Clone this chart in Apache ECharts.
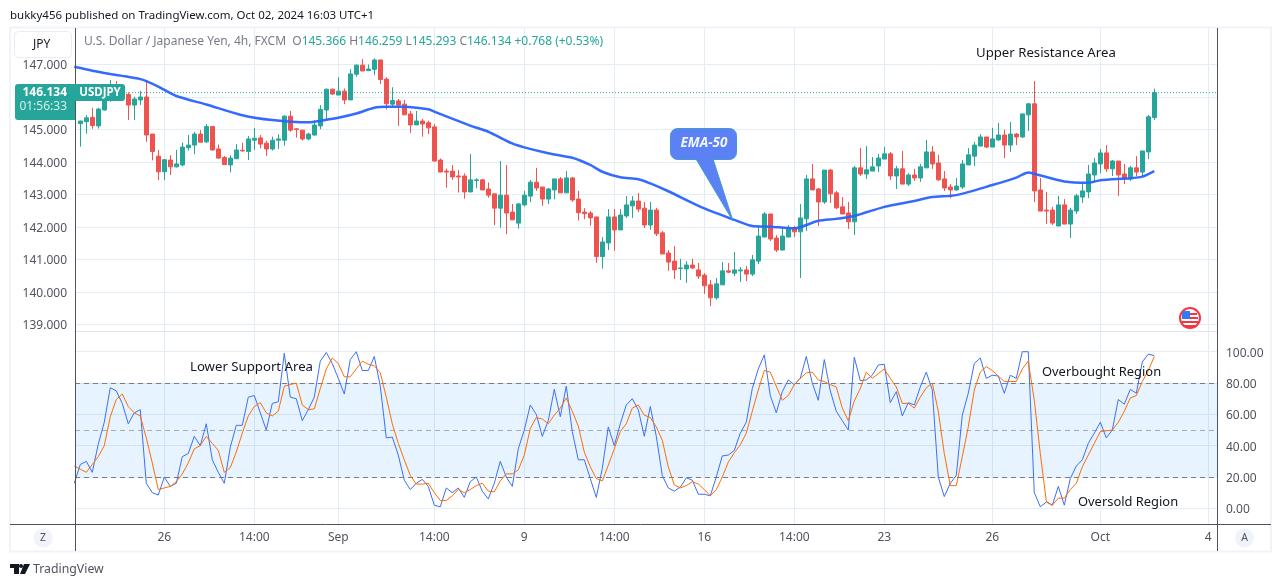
<!DOCTYPE html>
<html>
<head>
<meta charset="utf-8">
<style>html,body{margin:0;padding:0;background:#fff}#chart{width:1281px;height:587px}</style>
<script src="https://cdn.jsdelivr.net/npm/echarts@6/dist/echarts.min.js"></script>
</head>
<body>
<div id="chart"></div>
<script>
// USD/JPY 4h, one row = 10 candles
const opens = [
  145.18,145.24,145.37,145.11,145.60,145.91,146.32,146.08,146.08,145.75,
  145.91,146.00,144.86,144.18,143.70,144.06,143.85,143.91,144.44,144.52,
  144.86,144.62,145.09,144.40,144.14,143.91,144.10,144.36,144.32,144.67,
  144.74,144.58,144.40,144.67,144.67,145.41,145.02,144.98,144.71,144.83,
  145.11,145.60,146.24,146.06,146.18,145.91,146.70,146.98,146.81,146.85,
  147.14,146.55,145.78,145.88,145.78,145.48,145.14,145.26,145.21,145.08,
  144.06,143.72,143.72,143.57,143.57,143.08,143.43,143.45,143.17,143.02,
  142.58,142.98,142.46,142.12,142.68,142.95,143.38,143.23,142.86,143.14,
  143.48,143.05,143.51,142.86,142.46,142.43,142.31,141.09,141.51,142.31,
  141.91,142.34,142.65,142.80,142.58,142.06,142.52,141.82,141.20,140.95,
  140.72,140.71,140.83,140.68,140.52,140.22,139.82,140.22,140.65,140.58,
  140.65,140.68,140.55,140.95,141.69,142.40,141.66,141.29,141.69,141.97,
  141.85,142.25,143.48,143.17,142.77,143.75,143.05,142.62,142.43,142.16,
  143.82,143.63,143.72,143.88,144.09,144.25,143.57,143.79,143.32,143.60,
  143.51,143.82,144.31,143.97,143.48,143.23,143.14,143.23,143.91,144.18,
  144.49,144.77,144.46,144.68,144.83,144.52,144.86,144.77,145.45,145.79,
  143.14,142.52,142.52,142.03,142.68,142.09,142.49,142.92,143.08,143.60,
  143.94,144.28,143.79,144.03,143.63,143.48,143.82,143.69,144.31,145.366
];
const closes = [
  145.26,145.36,145.12,145.63,145.91,146.37,146.06,146.26,145.75,145.94,
  146.00,144.83,144.32,143.70,144.07,143.85,143.94,144.46,144.52,144.86,
  144.61,145.09,144.37,144.12,143.92,144.12,144.37,144.34,144.71,144.73,
  144.55,144.40,144.67,144.71,145.41,144.98,145.00,144.71,144.86,145.14,
  145.62,146.24,146.09,146.18,145.91,146.71,146.98,146.80,146.86,147.14,
  146.54,145.79,145.89,145.75,145.45,145.14,145.26,145.17,145.05,144.03,
  143.69,143.69,143.54,143.54,143.08,143.45,143.45,143.14,142.98,142.58,
  142.98,142.43,142.22,142.71,142.98,143.38,143.20,142.86,143.17,143.48,
  143.05,143.51,142.83,142.44,142.41,142.28,141.09,141.54,142.31,141.91,
  142.37,142.68,142.80,142.55,142.06,142.52,141.79,141.17,140.92,140.68,
  140.74,140.83,140.74,140.49,140.19,139.82,140.25,140.65,140.61,140.68,
  140.68,140.55,140.99,141.72,142.40,141.63,141.29,141.72,141.97,141.85,
  142.28,143.48,143.14,142.77,143.75,143.02,142.59,142.40,142.16,143.82,
  143.63,143.76,143.85,144.12,144.25,143.57,143.79,143.32,143.60,143.51,
  143.85,144.31,143.94,143.45,143.20,143.14,143.26,143.94,144.22,144.52,
  144.77,144.46,144.71,144.83,144.52,144.86,144.77,145.48,145.79,143.11,
  142.49,142.49,142.12,142.68,142.09,142.52,142.96,143.11,143.63,143.97,
  144.28,143.79,144.03,143.60,143.51,143.82,143.69,144.34,145.39,146.134
];
const lows = [
  144.47,144.87,145.02,145.03,145.58,145.85,145.98,146.01,145.29,145.29,
  145.75,144.62,144.05,143.44,143.44,143.60,143.83,143.87,144.35,144.24,
  144.60,144.58,144.35,144.09,143.91,143.68,144.09,144.32,144.06,144.37,
  144.42,144.18,144.35,144.40,144.50,144.93,144.75,144.66,144.67,144.81,
  145.01,145.29,146.06,146.06,145.78,145.91,146.62,146.80,146.80,146.67,
  146.40,145.62,145.72,145.11,145.45,144.90,145.14,144.78,144.86,144.01,
  143.69,143.21,143.45,143.06,142.87,143.07,143.19,143.14,142.90,142.06,
  141.98,141.78,142.22,141.95,142.63,142.77,143.11,142.65,142.71,142.85,
  143.05,143.05,142.78,142.20,142.24,142.04,140.90,140.72,141.29,141.27,
  141.91,142.28,142.28,142.46,141.97,141.91,141.72,141.17,140.65,140.40,
  140.37,140.28,140.71,140.40,139.94,139.57,139.76,140.22,140.58,140.49,
  140.31,140.34,140.49,140.86,141.69,141.57,141.23,141.29,141.69,141.69,
  140.43,141.88,143.14,142.03,142.71,142.74,142.55,142.40,141.94,141.75,
  143.57,143.48,143.72,143.69,144.09,143.45,143.17,143.32,143.26,143.42,
  143.39,143.82,143.79,143.42,143.11,142.89,143.11,143.17,143.91,143.88,
  144.49,144.43,144.46,144.65,144.12,144.31,144.52,144.74,144.95,142.77,
  142.49,142.09,142.06,142.03,142.09,141.66,142.40,142.74,142.89,143.39,
  143.66,143.69,143.57,142.96,143.32,143.42,143.57,143.57,144.09,145.293
];
const highs = [
  145.27,145.44,145.67,145.67,146.02,146.52,146.49,146.37,146.14,146.01,
  146.18,146.52,144.86,144.37,144.09,144.21,144.37,144.60,144.83,144.93,
  144.98,145.17,145.09,144.54,144.19,144.21,144.55,144.59,144.80,145.05,
  144.83,144.65,144.78,144.85,145.44,145.57,145.03,144.98,144.90,145.28,
  145.75,146.26,146.26,146.61,146.26,146.86,147.00,147.16,147.00,147.19,
  147.14,146.61,146.30,145.94,145.91,145.57,145.57,145.32,145.27,145.17,
  144.11,143.80,143.91,143.75,143.65,144.25,143.50,143.48,143.37,143.02,
  144.03,143.91,142.71,142.74,143.11,143.45,143.82,143.23,143.20,143.48,
  143.54,143.72,143.54,143.11,142.58,142.49,142.31,141.69,142.55,142.55,
  142.55,142.95,142.95,143.05,142.77,142.77,142.59,141.88,141.29,141.41,
  141.02,140.95,141.02,140.89,140.58,140.37,140.43,140.92,140.89,141.23,
  140.77,140.80,141.14,142.00,142.46,142.40,141.75,142.00,142.06,142.03,
  142.71,143.60,143.94,143.20,143.75,143.79,143.11,142.92,142.77,143.88,
  144.43,144.49,144.15,144.25,144.46,144.31,143.88,144.34,143.66,143.79,
  143.94,144.68,144.49,144.22,143.72,143.32,143.51,144.06,144.43,144.62,
  144.86,144.77,145.05,145.20,144.99,145.23,144.89,145.48,145.82,146.49,
  143.51,143.08,142.62,142.96,142.86,142.59,143.02,143.39,143.91,144.12,
  144.40,144.52,144.06,144.03,143.94,143.88,144.18,144.34,145.45,146.259
];
// EMA-50 at these candle positions
const emaIdx = [-1,2,5,7,10,11,13,16,21,27,32,38,39,43,46,49,51,54,58,59,65,68,72,74,78,82,85,87,90,93,95,98,104,109,112,115,119,123,126,129,134,139,142,146,152,156,158,159,164,168,170,175,177,179];
const emaVals = [146.93,146.81,146.71,146.65,146.55,146.49,146.32,146.03,145.77,145.44,145.29,145.22,145.24,145.36,145.49,145.67,145.70,145.70,145.62,145.55,145.12,144.93,144.57,144.45,144.27,144.13,143.91,143.70,143.53,143.47,143.34,143.10,142.57,142.22,142.03,142.01,141.96,142.19,142.25,142.34,142.62,142.80,142.92,142.98,143.29,143.52,143.68,143.64,143.40,143.36,143.44,143.50,143.55,143.72];
// stochastic, first value is the bar just before the first candle
const stochK = [16,
  28,30,23,41,55,77,75,67,54,61,
  63,16,10,8.5,20,14,16,33,35,46,
  40,54,31,23,16,39,53,53,71,72,
  61,50,67,68,99,71,70,56,63,71,
  94,99.5,92.5,83,73,95,100,88,88,97,
  78,45,45.5,34,18,12,16,18.5,14,2,
  1,13,10,13,7,17,20,11,6,16,
  30,20,14,38,50,66,60,46,56,76,
  58.5,78,49,31,31,19,7,25.5,52,40,
  54,66,70,63,46,65,46,21,13,11,
  13.5,19.5,18,9,9,8,20,33.5,34,37,
  48,55,76.5,89,98,72,61,74.5,82,79,
  83,97,80,69,95,75,62,56,50,96.5,
  81.5,82,85,91.5,92,67.5,74.5,59,67.5,66,
  77.5,87,75.5,20,7.5,16,21,59.5,73.5,92.5,
  96,83,85,84.5,73.5,85,83,100,100,10,
  1,4,2,14,2,19,27,31,41.5,48,
  55,45,50,69.5,66.5,76,73.5,93.5,98.5,97.5
];
const stochD = [27,
  25,23,28,33,40,58.5,69.5,73,65,61,
  59,45,29,12,13,14,17,22,29,38,
  40,46,41.5,37,23,26,36,48,59,65,
  67.5,61,59,62,78,79,80,66,63,63.5,
  76.5,89,96,92.5,84,84,89,94,92,91,
  86.5,71,54,41.5,31,21,15.5,15.5,16,10,
  5,5,8,12,10,12,14.5,16,11,10.5,
  17.5,22,22,24.5,34,51,58,57,54,59.5,
  64,70.5,62,52.5,36,26.5,19,17.5,27.5,38,
  49,54,64,66,59.5,58,52,43.5,26.5,15,
  13,14.5,17,15.5,12,8,12,20,29.5,35.5,
  40.5,48,62,75.5,88,87,78,69,72,79,
  83,86.5,87,82,81,79,77.5,64,56,68.5,
  76.5,87,83,86,89,83,77.5,67,67,64,
  71,77,80,62,35,14.5,14.5,33,52,75.5,
  87,90.5,88,84.5,81,81,81,89,94,69,
  35,4.5,2,6.5,6.5,12,16,26.5,34,41.5,
  49,49.5,50,55,62,70.5,72,81,88,97
];
const lastPrice = 146.134;
const tickIdx = [14,29,43,59,74,89,104,119,134,152,170,188];
const tickLabels = ['26','14:00','Sep','14:00','9','14:00','16','14:00','23','26','Oct','4'];
const priceTicks = [139,140,141,142,143,144,145,146,147];
const stochTicks = [0,20,40,60,80,100];

const UP = '#26a69a', DOWN = '#ef5350', GRID = '#e2edf4', AXIS = '#50535e';
const FONT = 'Noto Sans';

// candle index range that maps onto the pane's pixel width
const X_MIN = -0.88, X_MAX = 189.45;

const candles = opens.map((o, i) => [i, o, closes[i], lows[i], highs[i]]);
const ema = emaIdx.map((x, i) => [x, emaVals[i]]);
const kLine = stochK.map((v, i) => [i - 1, v]);
const dLine = stochD.map((v, i) => [i - 1, v]);

function xAxisFor(gridIndex, withLabels) {
  return {
    type: 'value', gridIndex, min: X_MIN, max: X_MAX, scale: true,
    axisLine: {show: false},
    axisTick: {show: false, customValues: tickIdx},
    axisLabel: {
      show: withLabels, customValues: tickIdx, color: AXIS, fontFamily: FONT, fontSize: 12, margin: 8,
      formatter: v => tickLabels[tickIdx.indexOf(v)]
    },
    splitLine: {show: true, lineStyle: {color: GRID, width: 1}}
  };
}

// rich style nudges the value labels down to sit on their grid lines
const tickRich = {p: {color: AXIS, fontFamily: FONT, fontSize: 12, padding: [3, 0, 0, 0]}};

function text(x, y, str, size, color, extra) {
  return {type: 'text', x, y, z: 30, style: Object.assign({
    text: str, fill: color, fontSize: size, fontFamily: FONT, textVerticalAlign: 'middle'
  }, extra || {})};
}
function vLine(x, y1, y2, color) {
  return {type: 'line', z: 25, shape: {x1: x, y1, x2: x, y2}, style: {stroke: color, lineWidth: 1}};
}
function hLine(y, x1, x2, color, w) {
  return {type: 'line', z: 25, shape: {x1, y1: y, x2, y2: y}, style: {stroke: color, lineWidth: w || 1}};
}

const graphics = [
  // frame
  {type: 'rect', z: 24, shape: {x: 10, y: 27.5, width: 1261, height: 524}, style: {fill: 'none', stroke: '#f0f3fa', lineWidth: 2}},
  hLine(331.5, 75, 1217, '#e0e3eb', 1),
  hLine(524.5, 10, 1271, AXIS),
  vLine(75.5, 28, 551, AXIS),
  vLine(1217.5, 28, 551, AXIS),
  // header
  text(10, 15.5, 'bukky456 published on TradingView.com, Oct 02, 2024 16:03 UTC+1', 11.5, '#131722'),
  {type: 'text', x: 84, y: 42, z: 30, style: {
    text: '{g|U.S. Dollar / Japanese Yen, 4h, FXCM}  {g|O}{v|145.366} {g|H}{v|146.259} {g|L}{v|145.293} {g|C}{v|146.134} {v|+0.768 (+0.53%)}',
    textVerticalAlign: 'middle', fontFamily: FONT, fontSize: 12,
    rich: {g: {fill: '#787b86', fontFamily: FONT, fontSize: 12}, v: {fill: UP, fontFamily: FONT, fontSize: 12}}
  }},
  // currency button
  {type: 'rect', z: 26, shape: {x: 14.5, y: 31.5, width: 57, height: 26, r: 4}, style: {fill: '#fff', stroke: '#e9ecf2', lineWidth: 1}},
  text(33, 44.5, 'JPY', 12, '#131722'),
  // last price tags
  {type: 'rect', z: 26, shape: {x: 15, y: 84, width: 60, height: 36, r: [3, 0, 0, 3]}, style: {fill: UP}},
  text(67, 93, '146.134', 12, '#fff', {textAlign: 'right', fontWeight: 'bold'}),
  text(67, 107, '01:56:33', 12, '#d4eeeb', {textAlign: 'right'}),
  {type: 'rect', z: 26, shape: {x: 75, y: 84, width: 50, height: 17, r: [0, 3, 3, 0]}, style: {fill: UP}},
  text(100, 92.5, 'USDJPY', 11.5, '#fff', {textAlign: 'center', fontWeight: 'bold'}),
  // annotations
  text(976, 53, 'Upper Resistance Area', 13.2, '#131722'),
  text(190, 367, 'Lower Support Area', 13.2, '#131722'),
  text(1042, 372, 'Overbought Region', 12.9, '#131722'),
  text(1078, 502, 'Oversold Region', 12.9, '#131722'),
  // EMA-50 callout
  {type: 'polygon', z: 27, shape: {points: [[696, 159], [733, 221], [713, 159]]}, style: {fill: '#5b81f5', stroke: '#3f9bd0', lineWidth: 1}},
  {type: 'rect', z: 28, shape: {x: 670.5, y: 128.5, width: 66, height: 31, r: 7}, style: {fill: '#5b81f5', stroke: '#3f9bd0', lineWidth: 1}},
  {type: 'rect', z: 29, shape: {x: 697, y: 156, width: 15, height: 4}, style: {fill: '#5b81f5'}},
  text(704, 143, 'EMA-50', 13.5, '#f2f5ff', {textAlign: 'center', fontStyle: 'italic', fontWeight: 'bold'}),
  // country flag
  {type: 'circle', z: 26, shape: {cx: 1190, cy: 318, r: 10}, style: {fill: '#fff', stroke: '#f23645', lineWidth: 2}},
  {type: 'rect', z: 27, shape: {x: 1183, y: 325, width: 14, height: 2}, style: {fill: '#f23645'}},
  {type: 'rect', z: 27, shape: {x: 1182, y: 321, width: 16, height: 2}, style: {fill: '#f23645'}},
  {type: 'rect', z: 27, shape: {x: 1190, y: 317, width: 8, height: 2}, style: {fill: '#f23645'}},
  {type: 'rect', z: 27, shape: {x: 1190, y: 313, width: 7, height: 2}, style: {fill: '#f23645'}},
  {type: 'rect', z: 28, shape: {x: 1182, y: 311, width: 8, height: 8, r: [3, 0, 0, 0]}, style: {fill: '#3179f5'}},
  // scale buttons
  {type: 'circle', z: 26, shape: {cx: 43, cy: 538, r: 9.5}, style: {fill: '#f0f3fa'}},
  text(43, 538.5, 'Z', 10.5, '#50535e', {textAlign: 'center'}),
  {type: 'circle', z: 26, shape: {cx: 1244.5, cy: 538, r: 9.5}, style: {fill: '#f0f3fa'}},
  text(1244.5, 538.5, 'A', 10.5, '#50535e', {textAlign: 'center'}),
  // footer logo
  {type: 'polygon', z: 26, shape: {points: [[10, 564], [19, 564], [19, 574], [14, 574], [14, 568], [10, 568]]}, style: {fill: '#131722'}},
  {type: 'circle', z: 26, shape: {cx: 21, cy: 566, r: 2}, style: {fill: '#131722'}},
  {type: 'polygon', z: 26, shape: {points: [[24, 564], [30, 564], [25, 574], [20, 574]]}, style: {fill: '#131722'}},
  text(33, 569.5, 'TradingView', 12.3, '#50535e')
];

const chart = echarts.init(document.getElementById('chart'));
chart.setOption({
  animation: false,
  backgroundColor: '#fff',
  grid: [
    {left: 75, top: 28, width: 1142, height: 303},
    {left: 75, top: 332, width: 1142, height: 192}
  ],
  xAxis: [xAxisFor(0, false), xAxisFor(1, true)],
  yAxis: [
    {
      type: 'value', gridIndex: 0, position: 'left', scale: true, min: 138.8, max: 148.123,
      axisLine: {show: false},
      axisTick: {show: false, customValues: priceTicks},
      axisLabel: {customValues: priceTicks, margin: 8, rich: tickRich, formatter: v => '{p|' + v.toFixed(3) + '}'},
      splitLine: {show: true, lineStyle: {color: GRID, width: 1}}
    },
    {
      type: 'value', gridIndex: 1, position: 'right', min: -10, max: 112.6,
      axisLine: {show: false},
      axisTick: {show: false, customValues: stochTicks},
      axisLabel: {customValues: stochTicks, margin: 9, rich: tickRich, formatter: v => '{p|' + v.toFixed(2) + '}'},
      splitLine: {show: true, lineStyle: {color: GRID, width: 1}}
    }
  ],
  series: [
    {
      type: 'candlestick', name: 'USDJPY', xAxisIndex: 0, yAxisIndex: 0, data: candles, barWidth: 5,
      itemStyle: {color: UP, color0: DOWN, borderColor: UP, borderColor0: DOWN, borderWidth: 1}
    },
    {
      type: 'line', name: 'Last', xAxisIndex: 0, yAxisIndex: 0, data: [[X_MIN, lastPrice], [X_MAX, lastPrice]], showSymbol: false,
      lineStyle: {color: UP, type: [1, 2], width: 1}, z: 3
    },
    {
      type: 'line', name: 'EMA-50', xAxisIndex: 0, yAxisIndex: 0, data: ema, showSymbol: false, smooth: 0.25,
      lineStyle: {color: '#2962ff', width: 2.5, opacity: 0.95}, z: 5
    },
    {
      type: 'line', name: '%K', xAxisIndex: 1, yAxisIndex: 1, data: kLine, showSymbol: false,
      lineStyle: {color: '#3d6ff5', width: 1}, z: 5,
      markArea: {
        silent: true, itemStyle: {color: 'rgba(33,150,243,0.11)'},
        data: [[{yAxis: 20}, {yAxis: 80}]]
      },
      markLine: {
        silent: true, symbol: 'none', label: {show: false},
        lineStyle: {color: '#787b86', type: [5, 4], width: 1},
        data: [{yAxis: 80}, {yAxis: 50, lineStyle: {color: '#787b86', opacity: 0.6}}, {yAxis: 20}]
      }
    },
    {
      type: 'line', name: '%D', xAxisIndex: 1, yAxisIndex: 1, data: dLine, showSymbol: false,
      lineStyle: {color: '#ff6d00', width: 1}, z: 6
    }
  ],
  graphic: graphics
});
</script>
</body>
</html>
